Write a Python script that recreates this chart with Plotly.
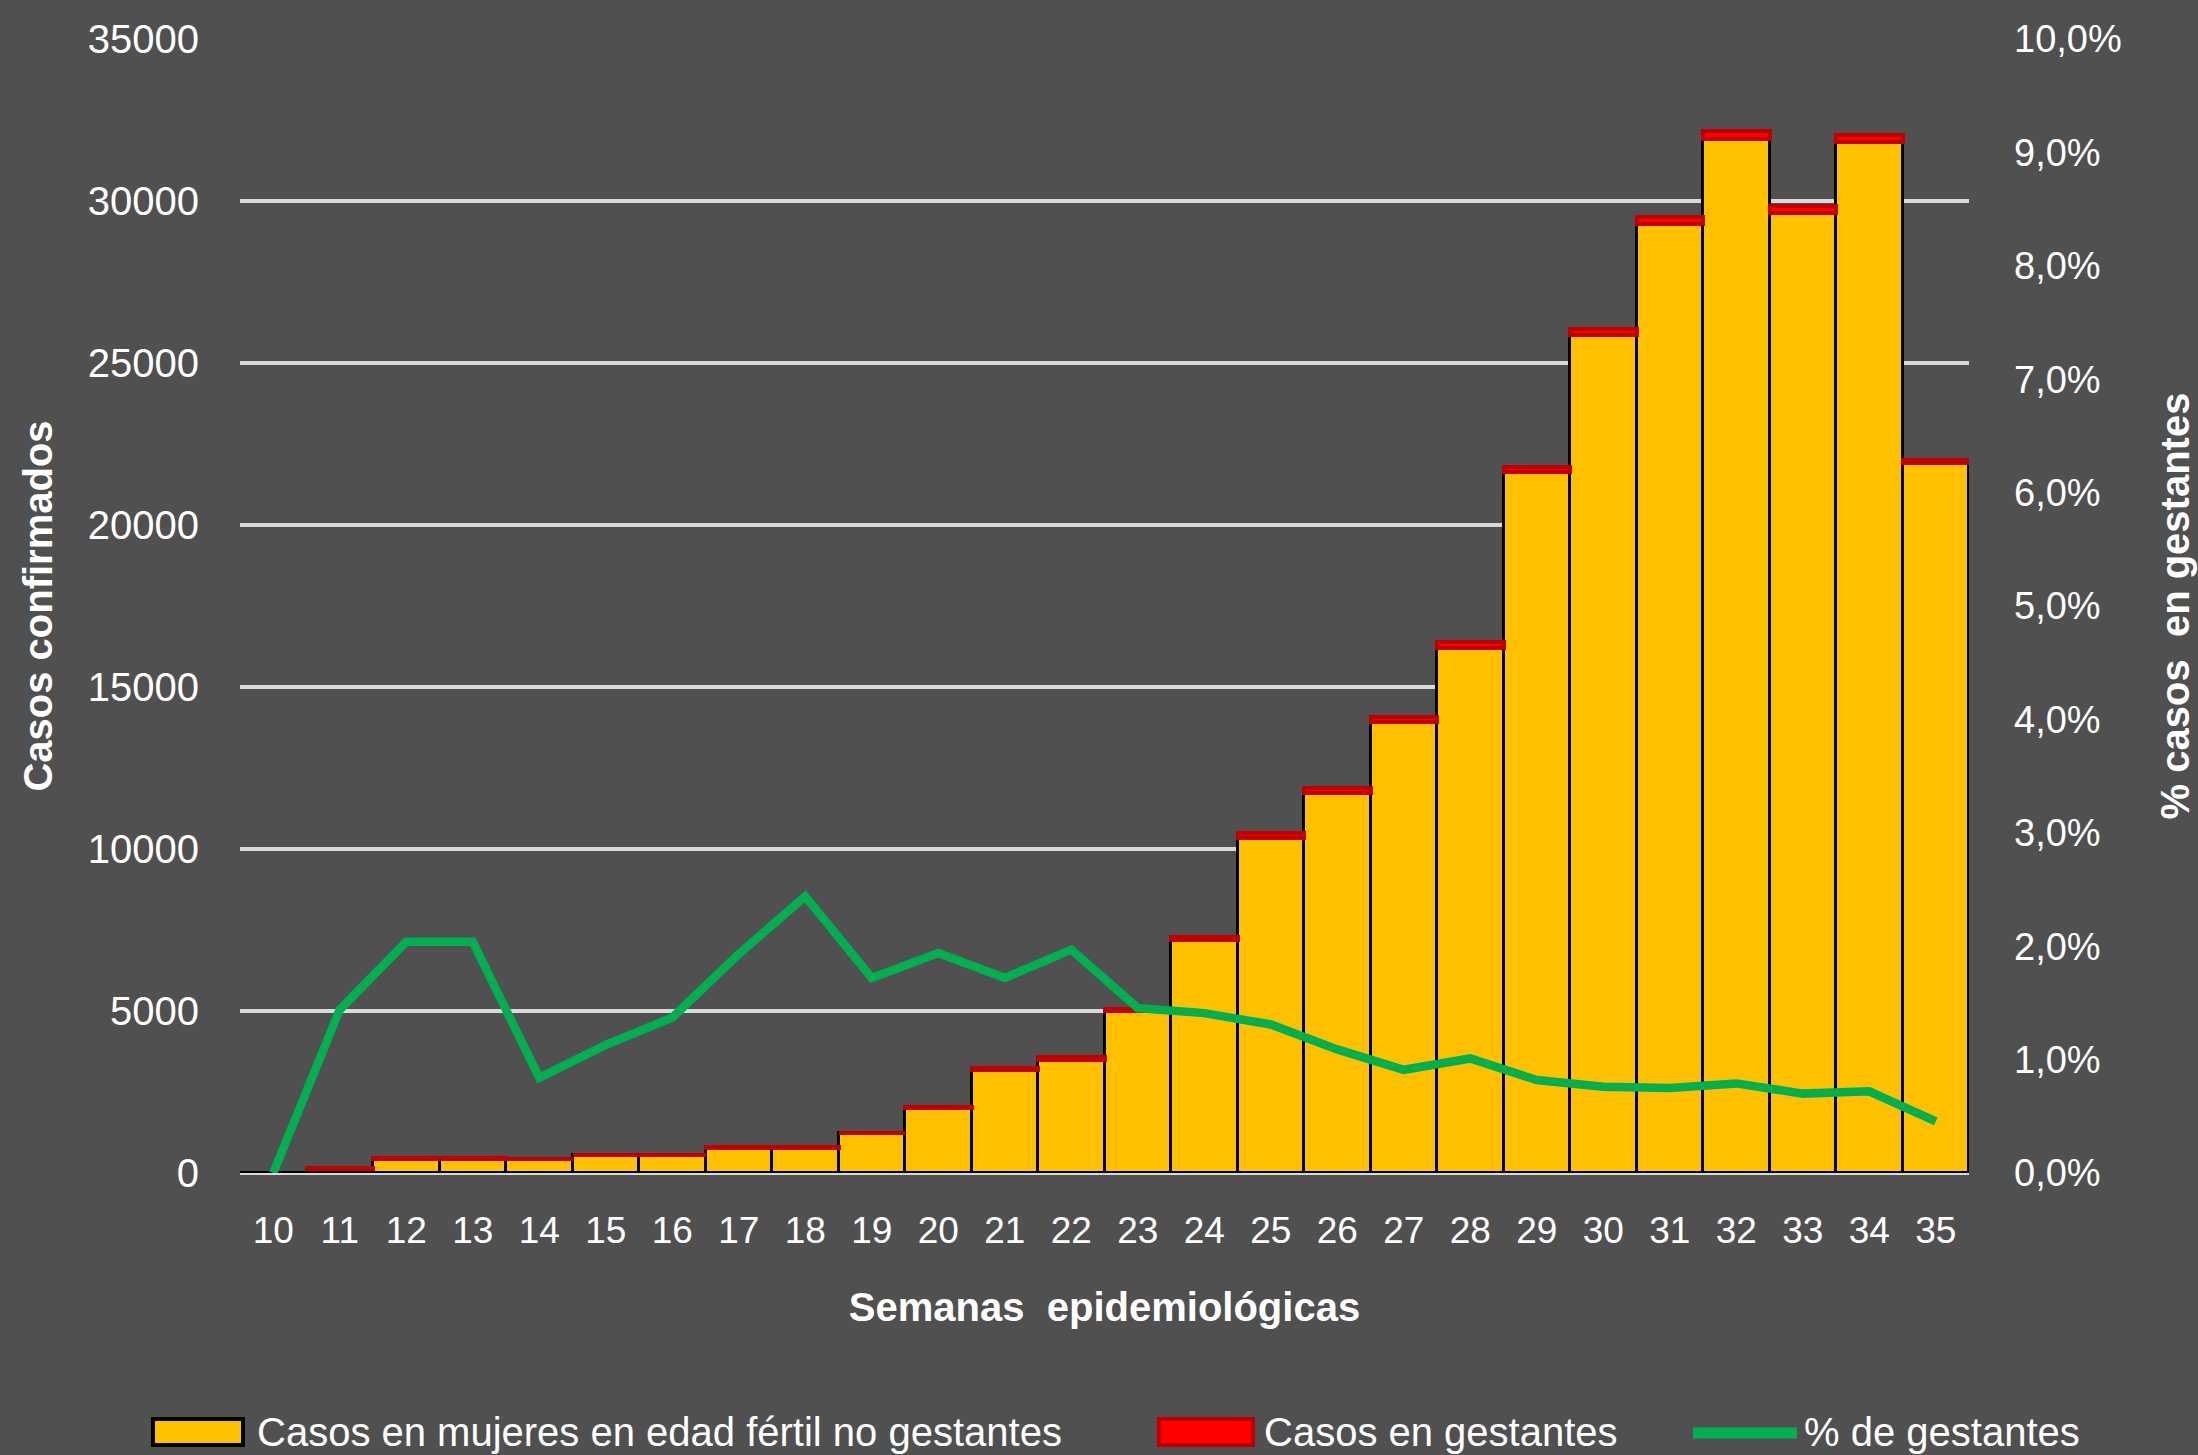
import plotly.graph_objects as go

# ---------------- data ----------------
weeks = [str(w) for w in range(10, 36)]
casos_no_gestantes = [2, 138, 441, 441, 436, 564, 562, 775, 771, 1229, 2010, 3174, 3500,
                      4996, 7177, 10343, 11741, 13932, 16215, 21621, 25862, 29289, 31916,
                      29641, 31809, 21920]
casos_gestantes = [None, 2, 9, 9, 4, 6, 8, 15, 19, 21, 40, 56, 70,
                   74, 103, 137, 129, 128, 165, 179, 198, 221, 254, 209, 231, 100]
pct_gestantes = [0.0, 0.0144, 0.0204, 0.0204, 0.0084, 0.0113, 0.0137, 0.0193, 0.0244,
                 0.0172, 0.0194, 0.0172, 0.0197, 0.01455, 0.0141, 0.0131, 0.0109, 0.0091,
                 0.0101, 0.0082, 0.0076, 0.0075, 0.0079, 0.0070, 0.0072, 0.00455]

legend_labels = ["Casos en mujeres en edad fértil no gestantes", "Casos en gestantes", "% de gestantes"]

# ---------------- styling ----------------
W, H = 2198, 1455
ML, MR, MT, MB = 240, 229, 39, 282
PW, PH = W - ML - MR, H - MT - MB
BG = "#505050"
FONT = "Liberation Sans, Arial, sans-serif"
TXT = "#FFFFFF"


def px_x(px):
    return (px - ML) / PW


def px_y(py):
    return (H - MB - py) / PH


fig = go.Figure()
fig.add_trace(go.Bar(x=weeks, y=casos_no_gestantes, name=legend_labels[0],
                     marker=dict(color="#FFC000", line=dict(color="#000000", width=3.5)),
                     showlegend=False, yaxis="y"))
fig.add_trace(go.Bar(x=weeks, y=casos_gestantes, name=legend_labels[1],
                     marker=dict(color="#FF0000", line=dict(color="#C00000", width=4.5)),
                     showlegend=False, yaxis="y"))
fig.add_trace(go.Scatter(x=weeks, y=pct_gestantes, name=legend_labels[2], mode="lines",
                         line=dict(color="#00B050", width=8.5), showlegend=False, yaxis="y2"))

# manual legend
LEG_Y = 1432
shapes = [
    dict(type="rect", xref="paper", yref="paper", x0=px_x(153), x1=px_x(243),
         y0=px_y(LEG_Y + 13), y1=px_y(LEG_Y - 13), fillcolor="#FFC000", line=dict(color="#000000", width=4)),
    dict(type="rect", xref="paper", yref="paper", x0=px_x(1159), x1=px_x(1253),
         y0=px_y(LEG_Y + 13), y1=px_y(LEG_Y - 13), fillcolor="#FF0000", line=dict(color="#C00000", width=4)),
    dict(type="line", xref="paper", yref="paper", x0=px_x(1693), x1=px_x(1797),
         y0=px_y(LEG_Y + 1), y1=px_y(LEG_Y + 1), line=dict(color="#00B050", width=11)),
]
annotations = []
for lbl, xl in zip(legend_labels, [255, 1262, 1802]):
    annotations.append(dict(text=lbl, xref="paper", yref="paper", x=px_x(xl), y=px_y(LEG_Y),
                            xanchor="left", yanchor="middle", showarrow=False,
                            font=dict(family=FONT, size=40, color=TXT)))

fig.update_layout(
    width=W, height=H,
    margin=dict(l=ML, r=MR, t=MT, b=MB, autoexpand=False),
    paper_bgcolor=BG, plot_bgcolor=BG,
    barmode="stack", bargap=0,
    separators=",.",
    font=dict(family=FONT, size=36, color=TXT),
    showlegend=False,
    xaxis=dict(type="category", showgrid=False, zeroline=False, showline=False,
               ticks="", ticklabelstandoff=32,
               tickfont=dict(family=FONT, size=37, color=TXT),
               title=dict(text="Semanas  epidemiológicas", standoff=42,
                          font=dict(family=FONT, size=40, color=TXT, weight="bold"))),
    yaxis=dict(range=[0, 35000], dtick=5000, tickformat="d",
               showgrid=True, gridcolor="#D9D9D9", gridwidth=3.5,
               zeroline=True, zerolinecolor="#D9D9D9", zerolinewidth=3.5,
               showline=False, ticks="", ticklabelstandoff=40,
               tickfont=dict(family=FONT, size=40, color=TXT),
               title=dict(text="Casos confirmados", standoff=22,
                          font=dict(family=FONT, size=40, color=TXT, weight="bold"))),
    yaxis2=dict(range=[0, 0.10], dtick=0.01, tickformat=".1%", overlaying="y", side="right",
                showgrid=False, zeroline=False, showline=False, ticks="", ticklabelstandoff=44,
                tickfont=dict(family=FONT, size=38, color=TXT),
                title=dict(text="% casos  en gestantes", standoff=40,
                           font=dict(family=FONT, size=40, color=TXT, weight="bold"))),
    shapes=shapes,
    annotations=annotations,
)

fig.write_html("out.html", config={"displayModeBar": False},
               post_script="document.body.style.margin='0';document.body.style.background='#505050';")
